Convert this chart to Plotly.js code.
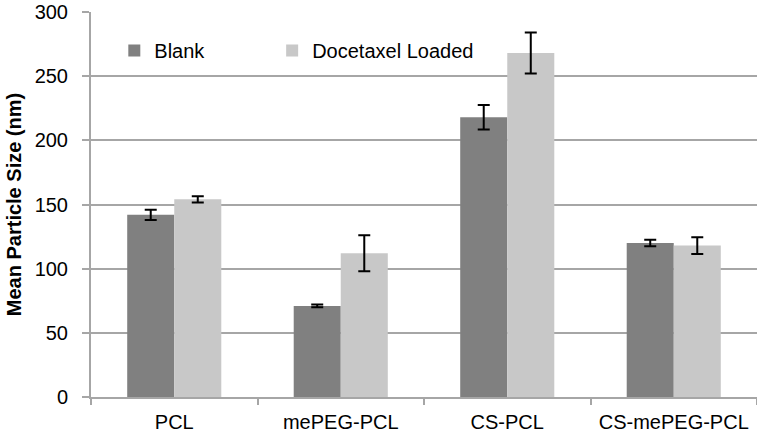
<!DOCTYPE html>
<html>
<head>
<meta charset="utf-8">
<script src="https://cdn.plot.ly/plotly-3.0.1.min.js"></script>
<style>html,body{margin:0;padding:0;background:#fff;}#chart{width:757px;height:432px;}</style>
</head>
<body>
<div id="chart"></div>
<script>
const categories = ["PCL", "mePEG-PCL", "CS-PCL", "CS-mePEG-PCL"];
const blankValues = [142, 71, 218, 120];
const blankErrors = [4, 1, 9.5, 2.5];
const loadedValues = [154, 112, 268, 118];
const loadedErrors = [2.5, 14, 16, 6.5];
const seriesNames = ["Blank", "Docetaxel Loaded"];
const yTicks = [0, 50, 100, 150, 200, 250, 300];

const errStyle = {type: 'data', visible: true, color: '#000000', thickness: 2, width: 6};

const traces = [
  {type: 'bar', name: seriesNames[0], x: categories, y: blankValues,
   marker: {color: '#808080'}, legend: 'legend',
   error_y: Object.assign({array: blankErrors}, errStyle)},
  {type: 'bar', name: seriesNames[1], x: categories, y: loadedValues,
   marker: {color: '#c8c8c8'}, legend: 'legend2',
   error_y: Object.assign({array: loadedErrors}, errStyle)}
];

const legendBase = {orientation: 'h', xanchor: 'left', y: 0.9, yanchor: 'middle',
                    font: {size: 20, color: '#000000'}, bgcolor: 'rgba(0,0,0,0)'};

const layout = {
  width: 757, height: 432,
  margin: {l: 91, r: 0, t: 12, b: 35},
  paper_bgcolor: '#ffffff', plot_bgcolor: '#ffffff',
  font: {family: 'Liberation Sans, Arial, sans-serif', color: '#000000', size: 20},
  barmode: 'group', bargap: 0.435, bargroupgap: 0,
  showlegend: true,
  legend: Object.assign({x: 0.035}, legendBase),
  legend2: Object.assign({x: 0.272}, legendBase),
  xaxis: {type: 'category', showline: true, linecolor: '#a6a6a6', linewidth: 2,
          ticks: 'outside', tickson: 'boundaries', ticklen: 6, tickcolor: '#a6a6a6', tickwidth: 2,
          showgrid: false, tickfont: {size: 20}, ticklabelstandoff: 6},
  yaxis: {range: [0, 300], tickvals: yTicks, ticktext: yTicks.map(String),
          showline: true, linecolor: '#a6a6a6', linewidth: 2,
          ticks: 'outside', ticklen: 7, tickcolor: '#a6a6a6', tickwidth: 2,
          showgrid: true, gridcolor: '#a6a6a6', gridwidth: 2, zeroline: false,
          tickfont: {size: 20}, ticklabelstandoff: 10,
          title: {text: '<b>Mean Particle Size (nm)</b>', font: {size: 20}, standoff: 8}}
};

Plotly.newPlot('chart', traces, layout, {displayModeBar: false, staticPlot: true});
</script>
</body>
</html>
